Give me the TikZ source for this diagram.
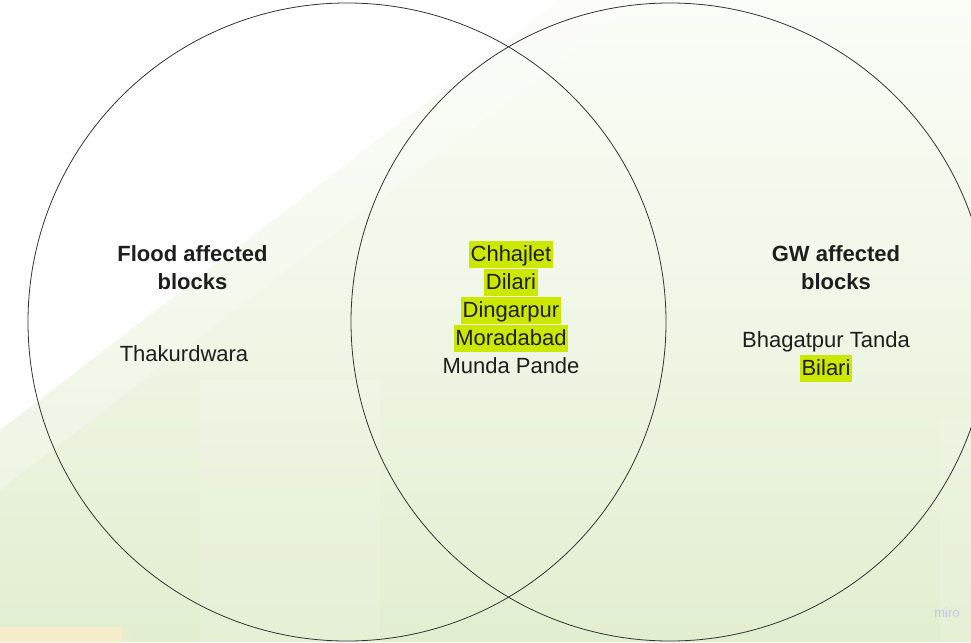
\documentclass[tikz,border=0pt]{standalone}
\usepackage{fontspec}
\setmainfont{Liberation Sans}
\definecolor{hl}{HTML}{CDE800}
\definecolor{bgA}{HTML}{E2EED0}
\definecolor{bgB}{HTML}{FBFDF8}
\definecolor{beige}{HTML}{F5ECC9}
\definecolor{mirocol}{HTML}{C3C6E0}
\definecolor{txt}{HTML}{1E1E1E}
\tikzset{
  venn/.style={draw=black!80, line width=0.8pt},
  item/.style={font=\fontsize{22}{27}\selectfont, text=txt, inner xsep=1.5pt, inner ysep=0pt, text height=20.5pt, text depth=6.5pt, anchor=base},
  hitem/.style={item, fill=hl},
  head/.style={font=\fontsize{22}{28}\selectfont\bfseries, text=txt, align=center, inner sep=0pt, anchor=base}
}
\begin{document}
\begin{tikzpicture}[x=1pt,y=-1pt]
\useasboundingbox (0,0) rectangle (971,642);
\begin{scope}
\clip (0,0) rectangle (971,642);
% background
\fill[bgB] (0,0) rectangle (971,642);
\shade[shading angle=50, bottom color=bgA, top color=bgB, middle color=bgA!45!bgB] (0,430) -- (560,0) -- (971,0) -- (971,642) -- (0,642) -- cycle;
\fill[white] (0,0) -- (560,0) -- (0,430) -- cycle;
\fill[white, opacity=0.25] (560,0) -- (640,0) -- (0,490) -- (0,430) -- cycle;
\fill[white, opacity=0.12] (200,380) rectangle (380,642);
\fill[white, opacity=0.12] (940,420) rectangle (971,642);
\fill[beige] (0,627) rectangle (130,642);
\fill[bgA!70!beige] (122,627) rectangle (130,642);
\node[font=\fontsize{13}{13}\selectfont, text=mirocol, anchor=base] (miro) at (947,617) {miro};
% circles
\node[venn, circle, minimum size=638pt, inner sep=0pt] (flood) at (347,322) {};
\node[venn, circle, minimum size=638pt, inner sep=0pt] (gw) at (670,322) {};
\end{scope}
% left
\node[head] (h1) at (192.5,261) {Flood affected};
\node[head] (h1b) at (192.5,289) {blocks};
\node[item] (thak) at (184,361) {Thakurdwara};
% middle
\node[hitem] (c1) at (511,261) {Chhajlet};
\node[hitem] (c2) at (511,289) {Dilari};
\node[hitem] (c3) at (511,317) {Dingarpur};
\node[hitem] (c4) at (511,345) {Moradabad};
\node[item] (c5) at (511,373) {Munda Pande};
% right
\node[head] (h2) at (836,261) {GW affected};
\node[head] (h2b) at (836,289) {blocks};
\node[item] (r1) at (826,347) {Bhagatpur Tanda};
\node[hitem] (r2) at (826,375) {Bilari};
\end{tikzpicture}
\end{document}
